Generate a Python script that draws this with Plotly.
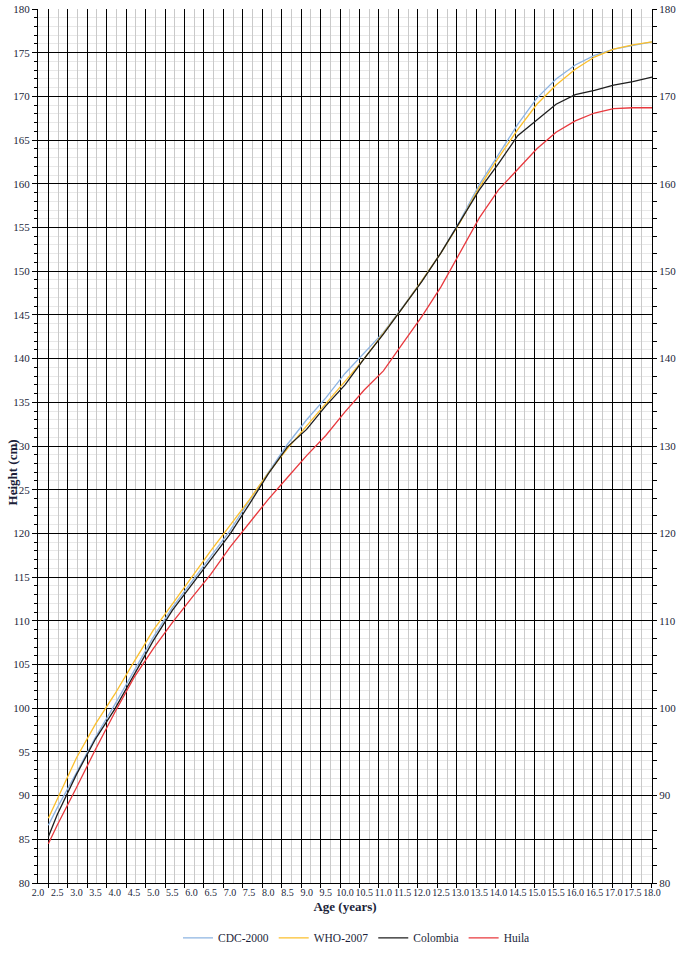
import plotly.graph_objects as go

# ages as placed on the labelled age axis
ages = [2.27, 2.5, 3.0, 3.5, 4.0, 4.5, 5.0, 5.5, 6.0, 6.5, 7.0, 7.5, 8.0, 8.5, 9.0, 9.5,
        10.0, 10.5, 11.0, 11.5, 12.0, 12.5, 13.0, 13.5, 14.0, 14.5, 15.0, 15.5, 16.0,
        16.5, 17.0, 17.5, 18.0]

cdc_2000 = [86.6, 88.6, 92.6, 96.7, 100.4, 104.3, 108.1, 111.5, 114.4, 117.3, 120.3, 123.7,
            127.0, 130.2, 133.0, 135.5, 138.3, 140.6, 143.0, 145.9, 148.9, 152.1, 155.8,
            159.9, 163.3, 166.8, 169.8, 172.0, 173.6, 174.7, 175.4, 175.8, 176.25]
who_2007 = [87.4, 89.6, 94.3, 98.2, 101.6, 105.3, 108.9, 111.9, 115.0, 118.0, 120.9, 123.8,
            126.9, 129.7, 132.3, 134.8, 137.4, 140.0, 142.9, 145.8, 148.9, 152.1, 155.6,
            159.6, 163.0, 166.2, 169.1, 171.3, 173.1, 174.5, 175.4, 175.9, 176.25]
colombia = [85.3, 87.8, 92.4, 96.5, 99.9, 103.8, 107.7, 111.2, 114.1, 117.1, 119.9, 123.3,
            126.8, 129.9, 131.9, 134.6, 137.0, 140.0, 142.8, 145.8, 148.8, 152.1, 155.7,
            159.3, 162.3, 165.5, 167.3, 169.1, 170.2, 170.7, 171.3, 171.7, 172.2]
huila = [84.5, 86.6, 90.9, 95.3, 99.5, 103.5, 106.8, 109.8, 112.6, 115.3, 118.4, 121.1,
         123.9, 126.4, 128.9, 131.2, 133.9, 136.4, 138.6, 141.7, 144.8, 148.2, 152.1,
         156.1, 159.3, 161.7, 164.0, 165.9, 167.2, 168.1, 168.6, 168.7, 168.7]

series = [
    ('CDC-2000', cdc_2000, '#8db4e2'),
    ('WHO-2007', who_2007, '#fbbf2c'),
    ('Colombia', colombia, '#1e1e1e'),
    ('Huila', huila, '#e8383d'),
]

TXT = '#1c1f3a'
FONT = 'Liberation Serif'

fig = go.Figure()
for name, vals, col in series:
    fig.add_trace(go.Scatter(x=ages, y=vals, name=name, mode='lines',
                             line=dict(color=col, width=1.3)))

# empty traces so the half-year grid axis and the right axis get drawn
fig.add_trace(go.Scatter(x=[], y=[], xaxis='x2', showlegend=False, hoverinfo='skip'))
fig.add_trace(go.Scatter(x=[], y=[], yaxis='y2', showlegend=False, hoverinfo='skip'))

fig.update_layout(
    width=698, height=957,
    margin=dict(l=38, r=46, t=9, b=74),
    paper_bgcolor='white', plot_bgcolor='white',
    font=dict(family=FONT, color=TXT, size=11),
    showlegend=True,
    # container-placed legend so it does not push the margins
    legend=dict(orientation='h', xref='container', yref='container', x=0.255, y=0.02,
                xanchor='left', yanchor='middle',
                font=dict(size=11.5, color=TXT), tracegroupgap=0),
    xaxis=dict(range=[2, 18], dtick=0.5, tick0=2, tickformat='.1f', showgrid=False,
               ticks='', showline=True, linecolor='black', linewidth=1, tickangle=0,
               tickfont=dict(size=10), zeroline=False, automargin=False,
               title=dict(text='<b>Age (years)</b>', font=dict(size=13), standoff=4)),
    xaxis2=dict(overlaying='x', anchor='y', side='bottom', range=[-0.53, 31.04],
                tick0=0, dtick=1, showgrid=True, gridcolor='black', gridwidth=1,
                ticks='outside', ticklen=4, tickcolor='black', showticklabels=False,
                zeroline=False, automargin=False,
                minor=dict(dtick=0.5, showgrid=True, gridcolor='#c9c9c9', gridwidth=1)),
    yaxis=dict(range=[80, 180], dtick=5, tick0=80, showgrid=True, gridcolor='black',
               gridwidth=1, showline=True, linecolor='black', linewidth=1,
               ticks='outside', ticklen=5, tickcolor='black', zeroline=False,
               tickfont=dict(size=11), automargin=False,
               minor=dict(dtick=1, showgrid=True, gridcolor='#e8e8e8', ticks='outside',
                          ticklen=3, tickcolor='black')),
    yaxis2=dict(overlaying='y', side='right', anchor='x', range=[80, 180], dtick=10,
                tick0=80, showgrid=False, showline=True, linecolor='black', linewidth=1,
                ticks='outside', ticklen=4, tickcolor='black', zeroline=False,
                tickfont=dict(size=11), automargin=False,
                minor=dict(dtick=2, ticks='outside', ticklen=4, tickcolor='black')),
    annotations=[dict(text='<b>Height (cm)</b>', textangle=-90, xref='paper', yref='paper',
                      x=-0.042, y=0.47, showarrow=False, font=dict(size=13, color=TXT),
                      xanchor='center', yanchor='middle')],
)

# drop the default page margin so the figure sits at the window's corner
fig.write_html('out.html', config={'displayModeBar': False},
               post_script="document.body.style.margin='0';document.body.style.overflow='hidden';")
